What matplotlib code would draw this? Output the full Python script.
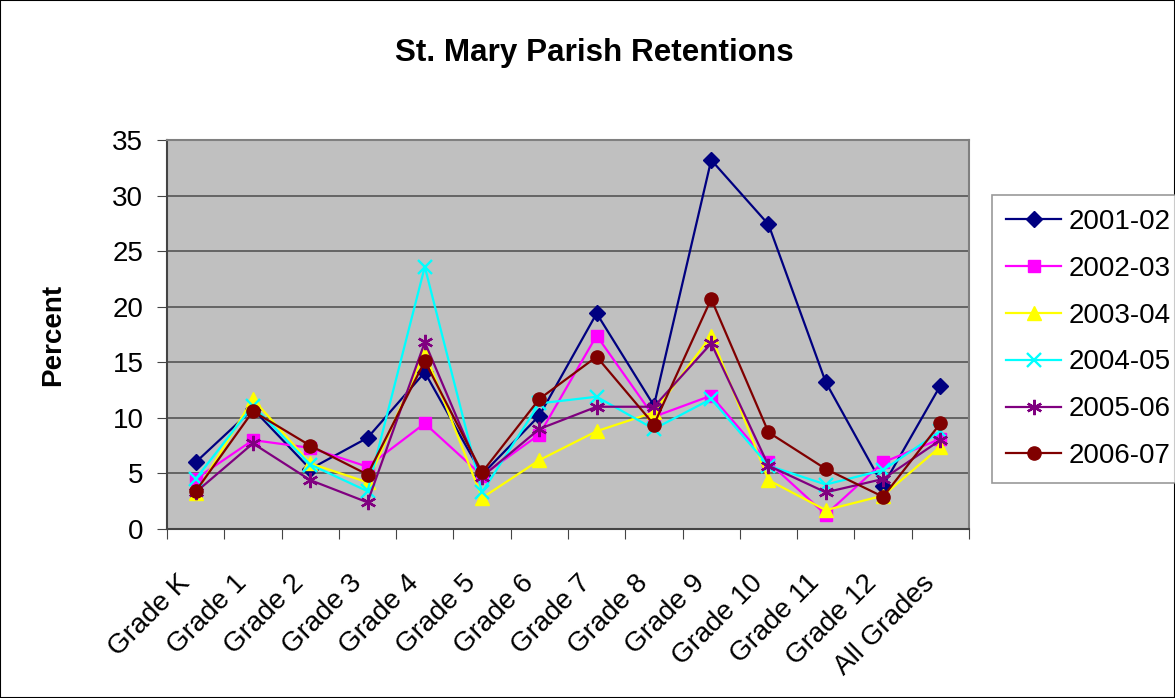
import matplotlib
matplotlib.use("Agg")
import matplotlib.pyplot as plt
from matplotlib.patches import Rectangle
from matplotlib.transforms import ScaledTranslation
import numpy as np

plt.rcParams['font.family'] = ['Liberation Sans', 'DejaVu Sans']

categories = ["Grade K", "Grade 1", "Grade 2", "Grade 3", "Grade 4", "Grade 5", "Grade 6",
              "Grade 7", "Grade 8", "Grade 9", "Grade 10", "Grade 11", "Grade 12", "All Grades"]

s2001_02 = [6.0, 10.8, 5.4, 8.2, 14.1, 4.9, 10.2, 19.4, 11.1, 33.2, 27.4, 13.2, 3.9, 12.9]
s2002_03 = [4.5, 8.0, 7.3, 5.6, 9.5, 4.8, 8.5, 17.4, 10.1, 12.0, 6.0, 1.3, 6.0, 8.1]
s2003_04 = [3.2, 11.7, 5.9, 4.2, 15.9, 2.8, 6.2, 8.8, 10.5, 17.4, 4.4, 1.7, 3.0, 7.4]
s2004_05 = [4.5, 11.1, 5.8, 3.4, 23.6, 3.3, 11.3, 11.9, 9.0, 11.7, 5.7, 4.0, 5.3, 8.8]
s2005_06 = [3.3, 7.7, 4.4, 2.4, 16.8, 4.7, 9.0, 11.0, 11.0, 16.7, 5.7, 3.3, 4.5, 8.0]
s2006_07 = [3.4, 10.6, 7.5, 4.9, 15.1, 5.1, 11.7, 15.5, 9.4, 20.7, 8.7, 5.4, 2.9, 9.5]

series = [
    ("2001-02", s2001_02, "#000080", "D", 8),
    ("2002-03", s2002_03, "#FF00FF", "s", 8.5),
    ("2003-04", s2003_04, "#FFFF00", "^", 10),
    ("2004-05", s2004_05, "#00FFFF", "x", 10),
    ("2005-06", s2005_06, "#800080", (6, 2, 0), 11),
    ("2006-07", s2006_07, "#800000", "o", 9.5),
]

W, H = 1175, 698
fig = plt.figure(figsize=(W / 100, H / 100), dpi=100)
ax = fig.add_axes([167 / W, 1 - 529 / H, (969 - 167) / W, (529 - 140) / H])
ax.set_facecolor("#C0C0C0")

x = np.arange(len(categories))
for name, vals, color, marker, ms in series:
    mew = 1.7 if marker in ("x", (6, 2, 0)) else 1
    ax.plot(x, vals, color=color, marker=marker, markersize=ms, linewidth=1.6,
            markeredgewidth=mew, label=name, zorder=3)

ax.set_xlim(-0.5, len(categories) - 0.5)
ax.set_ylim(0, 35)
ax.set_yticks(np.arange(0, 36, 5))
ax.yaxis.grid(True, color="#555555", linewidth=1.2, zorder=1)
ax.set_axisbelow(True)

ax.set_xticks(np.arange(-0.5, len(categories), 1.0))
ax.set_xticklabels([])
ax.set_xticks(x, minor=True)
ax.set_xticklabels(categories, minor=True, rotation=45, ha="right", va="center",
                   rotation_mode="anchor", fontsize=20)
ax.tick_params(axis="x", which="minor", length=0, pad=36)
ax.tick_params(axis="x", which="major", length=7, direction="out", color="#444444")
ax.tick_params(axis="y", length=7, direction="out", labelsize=20, pad=10, color="#444444")
shift = ScaledTranslation(-10 / 100, 0, fig.dpi_scale_trans)
for lab in ax.get_xticklabels(minor=True):
    lab.set_transform(lab.get_transform() + shift)

for side in ("top", "right"):
    ax.spines[side].set_color("#808080")
    ax.spines[side].set_linewidth(1.5)
for side in ("left", "bottom"):
    ax.spines[side].set_color("#444444")
    ax.spines[side].set_linewidth(1.5)

fig.text(53 / W, 1 - 335 / H, "Percent", rotation=90, ha="center", va="center",
         fontsize=20, fontweight="bold")
fig.text(594 / W, 1 - 53 / H, "St. Mary Parish Retentions", ha="center", va="center",
         fontsize=22.6, fontweight="bold")

leg = fig.legend(loc="upper left", bbox_to_anchor=(992 / W, 1 - 195 / H), fontsize=20,
                 frameon=True, fancybox=False, edgecolor="#808080", handlelength=2.0,
                 handletextpad=0.25, borderpad=0.5, labelspacing=0.75, borderaxespad=0)
leg.get_frame().set_linewidth(1.2)

fig.patches.append(Rectangle((0, 0), 1, 1, transform=fig.transFigure, fill=False,
                             edgecolor="black", linewidth=1.5))

fig.savefig("out.png", dpi=100)
